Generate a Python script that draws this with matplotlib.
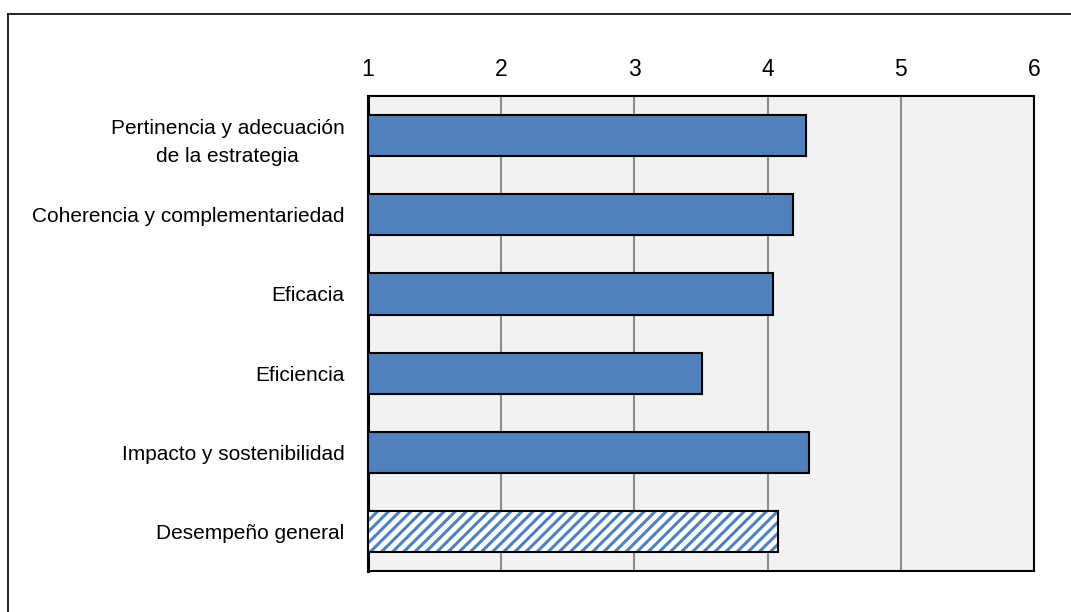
import matplotlib.pyplot as plt
from matplotlib import font_manager
from matplotlib.lines import Line2D

criterios = ['Pertinencia y adecuación\nde la estrategia',
             'Coherencia y complementariedad',
             'Eficacia',
             'Eficiencia',
             'Impacto y sostenibilidad',
             'Desempeño general']
puntajes = [4.29, 4.19, 4.04, 3.51, 4.31, 4.08]
ticks = [1, 2, 3, 4, 5, 6]

azul = '#4F81BD'

names = {f.name for f in font_manager.fontManager.ttflist}
fuente = 'Liberation Sans Narrow' if 'Liberation Sans Narrow' in names else 'Liberation Sans'
plt.rcParams['font.family'] = [fuente, 'DejaVu Sans']
plt.rcParams['hatch.linewidth'] = 2.2


def main():
    fig = plt.figure(figsize=(10.71, 6.12), dpi=100)
    ax = fig.add_axes([368 / 1071, 1 - 571 / 612, (1034 - 368) / 1071, (571 - 96) / 612])
    ax.set_facecolor('#F2F2F2')

    pos = list(range(len(criterios)))
    largos = [p - 1 for p in puntajes]
    h = 0.52

    # barras simples
    ax.barh(pos[:-1], largos[:-1], left=1, height=h, color=azul,
            edgecolor='black', linewidth=1.5, zorder=3)
    # barra rayada del desempeño general
    ax.barh(pos[-1], largos[-1], left=1, height=h, color='white',
            edgecolor=azul, hatch='///', linewidth=0, zorder=3)
    ax.barh(pos[-1], largos[-1], left=1, height=h, fill=False,
            edgecolor='black', linewidth=1.5, zorder=4)

    ax.set_xlim(1, 6)
    ax.set_ylim(len(criterios) - 0.5, -0.5)
    ax.set_xticks(ticks)
    ax.set_xticklabels([str(t) for t in ticks])
    ax.set_yticks(pos)
    ax.set_yticklabels(criterios, ha='right', multialignment='center',
                       linespacing=1.6)
    ax.xaxis.tick_top()
    ax.tick_params(axis='x', length=0, pad=11, labelsize=16.5)
    ax.tick_params(axis='y', length=0, pad=17, labelsize=15)

    ax.grid(axis='x', color='#8C8C8C', linewidth=1.5, zorder=1)
    ax.set_axisbelow(True)
    for s in ax.spines.values():
        s.set_color('black')
        s.set_linewidth(1.5)
    ax.spines['left'].set_linewidth(2.2)

    # marco de la figura
    fig.add_artist(Line2D([8 / 1071, 8 / 1071], [0, 1 - 14 / 612],
                          transform=fig.transFigure, color='black', linewidth=1.2))
    fig.add_artist(Line2D([8 / 1071, 1], [1 - 14 / 612, 1 - 14 / 612],
                          transform=fig.transFigure, color='black', linewidth=1.2))

    fig.savefig('out.png', dpi=100)


if __name__ == '__main__':
    main()
